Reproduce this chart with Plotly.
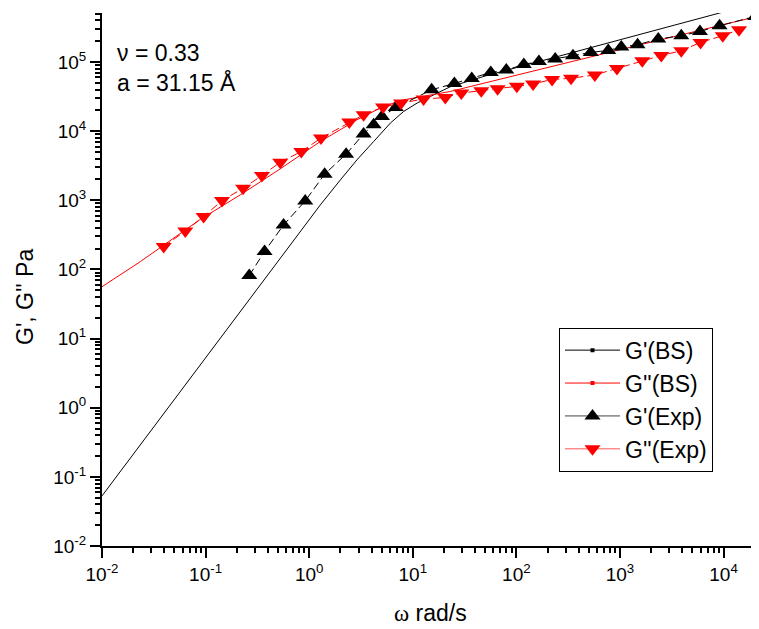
import plotly.graph_objects as go

# ---------------- data ----------------
# Experimental storage modulus G'(Exp)
omega_gp_exp = [0.264, 0.371, 0.566, 0.916, 1.41, 2.27, 3.35, 4.19, 5.04, 6.85,
                15.2, 25.2, 37.1, 56.6, 79.9, 118, 165, 237, 352, 523,
                771, 1030, 1479, 2343, 3906, 5917, 9150, 20230]
gp_exp = [81.8, 182, 440, 980, 2388, 4653, 9060, 12360, 16290, 21930,
          39700, 48970, 57810, 70630, 76560, 92250, 101900, 110900, 123300, 137700,
          147200, 164900, 177900, 215200, 240300, 277300, 335000, 457100]

# Experimental loss modulus G''(Exp)
omega_gpp_exp = [0.0394, 0.0637, 0.0957, 0.144, 0.230, 0.350, 0.526, 0.839, 1.30, 2.44,
                 3.35, 5.16, 7.69, 12.7, 20.6, 29.4, 45.8, 65.9, 101, 145,
                 221, 337, 572, 935, 1641, 2504, 3906, 5998, 9820, 14090]
gpp_exp = [214, 360, 581, 990, 1497, 2279, 3564, 5070, 7930, 13520,
           17250, 22290, 25470, 29110, 30690, 35560, 38370, 41020, 44590, 48170,
           55940, 58220, 65010, 80720, 104400, 124100, 145600, 192200, 240300, 293300]

# Model curves G'(BS), G''(BS)
omega_gp_bs = [0.01, 0.1, 0.5, 1.28, 2.0, 2.89, 4.19, 6.07, 8.15, 11.0, 14.8, 23.0, 50, 357, 8630, 22200]
gp_bs = [0.053, 5.3, 132, 857, 1972, 3846, 7080, 13070, 19250, 25470, 31770, 43850, 62800, 138800, 500000, 731000]

omega_gpp_bs = [0.01, 0.0234, 0.0889, 0.216, 0.526, 1.28, 2.89, 4.85, 7.57, 12.7, 23.0, 1570, 22130]
gpp_bs = [56.2, 129.5, 530, 1197, 2850, 7080, 14590, 21580, 27800, 32000, 37500, 177900, 463600]

# axis ticks
x_tickvals = [1e-2, 1e-1, 1e0, 1e1, 1e2, 1e3, 1e4]
x_ticktext = ["10<sup>-2</sup>", "10<sup>-1</sup>", "10<sup>0</sup>", "10<sup>1</sup>",
              "10<sup>2</sup>", "10<sup>3</sup>", "10<sup>4</sup>"]
y_tickvals = [1e-2, 1e-1, 1e0, 1e1, 1e2, 1e3, 1e4, 1e5]
y_ticktext = ["10<sup>-2</sup>", "10<sup>-1</sup>", "10<sup>0</sup>", "10<sup>1</sup>",
              "10<sup>2</sup>", "10<sup>3</sup>", "10<sup>4</sup>", "10<sup>5</sup>"]

minor_x = [m * 10.0 ** k for k in range(-2, 5) for m in range(2, 10)]
minor_y = [m * 10.0 ** k for k in range(-2, 6) for m in range(2, 10)]

FONT = "Arial, 'Liberation Sans', sans-serif"

fig = go.Figure()

# model lines
fig.add_trace(go.Scatter(x=omega_gp_bs, y=gp_bs, mode="lines",
                         line=dict(color="black", width=1), showlegend=False))
fig.add_trace(go.Scatter(x=omega_gpp_bs, y=gpp_bs, mode="lines",
                         line=dict(color="red", width=1), showlegend=False))

# experimental data
fig.add_trace(go.Scatter(x=omega_gp_exp, y=gp_exp, mode="lines+markers",
                         line=dict(color="black", width=1, dash="8px,4px"),
                         marker=dict(symbol="triangle-up", size=14, color="black"),
                         showlegend=False))
fig.add_trace(go.Scatter(x=omega_gpp_exp, y=gpp_exp, mode="lines+markers",
                         line=dict(color="red", width=1, dash="8px,4px"),
                         marker=dict(symbol="triangle-down", size=14, color="red"),
                         showlegend=False))

# legend entries
fig.add_trace(go.Scatter(x=[None], y=[None], mode="lines+markers", name="G'(BS)",
                         line=dict(color="black", width=1),
                         marker=dict(symbol="square", size=4, color="black"), legendgroup="a"))
fig.add_trace(go.Scatter(x=[None], y=[None], mode="lines+markers", name="G''(BS)",
                         line=dict(color="red", width=1),
                         marker=dict(symbol="square", size=4, color="red"), legendgroup="b"))
fig.add_trace(go.Scatter(x=[None], y=[None], mode="lines+markers", name="G'(Exp)",
                         line=dict(color="#444444", width=1),
                         marker=dict(symbol="triangle-up", size=14, color="black"), legendgroup="c"))
fig.add_trace(go.Scatter(x=[None], y=[None], mode="lines+markers", name="G''(Exp)",
                         line=dict(color="#ff5555", width=1),
                         marker=dict(symbol="triangle-down", size=14, color="red"), legendgroup="d"))

axis_common = dict(type="log", showline=True, linecolor="black", linewidth=2,
                   ticks="outside", ticklen=10, tickwidth=2, tickcolor="black",
                   showgrid=False, zeroline=False, mirror=False,
                   tickfont=dict(size=19, family=FONT, color="black"),
                   tickmode="array", automargin=False)

PLOT_H = 533.0  # plot area height in px (for placing titles)

fig.update_layout(
    width=751, height=621,
    margin=dict(l=94, r=0, t=5, b=83),
    plot_bgcolor="white", paper_bgcolor="white",
    font=dict(family=FONT, size=19, color="black"),
    xaxis=dict(**axis_common, range=[-2, 4.342], tickvals=x_tickvals, ticktext=x_ticktext,
               minor=dict(ticks="outside", ticklen=5, tickwidth=1.5, tickcolor="black",
                          tickmode="array", tickvals=minor_x, showgrid=False)),
    yaxis=dict(**axis_common, range=[-2, 5.709], tickvals=y_tickvals, ticktext=y_ticktext,
               minor=dict(ticks="outside", ticklen=5, tickwidth=1.5, tickcolor="black",
                          tickmode="array", tickvals=minor_y, showgrid=False)),
    legend=dict(x=0.6956, y=0.4096, xanchor="left", yanchor="top",
                bordercolor="black", borderwidth=1, bgcolor="white",
                font=dict(size=23, family=FONT), traceorder="grouped",
                tracegroupgap=0, itemwidth=55),
    annotations=[
        dict(text="ν = 0.33", xref="paper", yref="paper", x=0.02, y=0.925,
             xanchor="left", yanchor="middle", showarrow=False, font=dict(size=23)),
        dict(text="a = 31.15 Å", xref="paper", yref="paper", x=0.02, y=0.8705,
             xanchor="left", yanchor="middle", showarrow=False, font=dict(size=23)),
        dict(text="<span style=\"font-family:'Liberation Serif'\">ω</span> rad/s",
             xref="paper", yref="paper", x=0.5, y=-67 / PLOT_H,
             xanchor="center", yanchor="middle", showarrow=False, font=dict(size=23)),
        dict(text="G', G'' Pa", xref="paper", yref="paper", x=-77 / 657.0, y=(546 - 297) / PLOT_H,
             xanchor="center", yanchor="middle", textangle=-90, showarrow=False,
             font=dict(size=23)),
    ],
)

fig.write_html("out.html")
